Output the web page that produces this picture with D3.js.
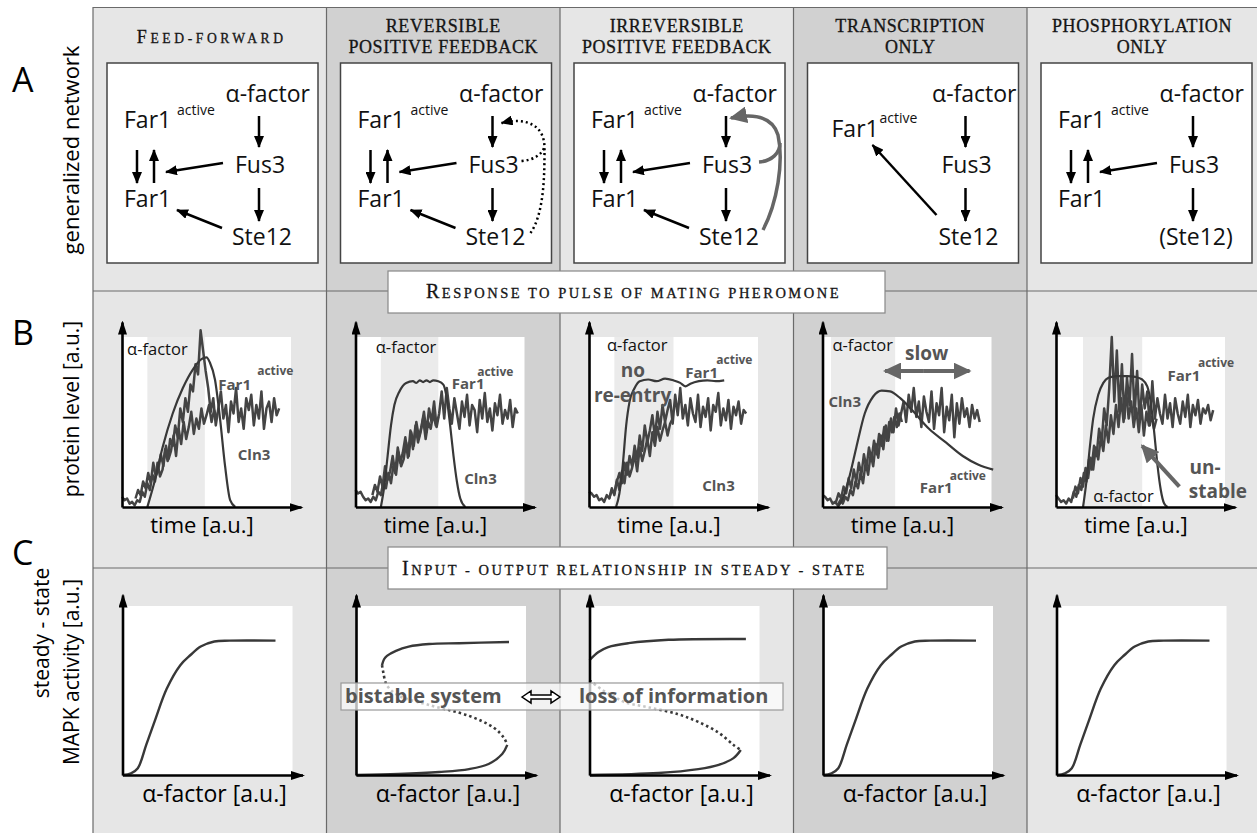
<!DOCTYPE html>
<html lang="en">
<head>
<meta charset="UTF-8">
<title>Far1 network motifs</title>
<script src="https://cdn.jsdelivr.net/npm/d3@7/dist/d3.min.js"></script>
<style>
  body { margin: 0; background: #fff; }
  svg { display: block; }
  text { font-family: "Open Sans", sans-serif; }
  .sc { font-family: "Liberation Serif", serif; fill: #151515; stroke: #151515; stroke-width: 0.3; }
  .up { text-transform: uppercase; }
</style>
</head>
<body>
<svg width="1257" height="833"></svg>
<script>
// ---- data ----
var columnTitles = [["Feed-forward"], ["reversible", "positive feedback"], ["irreversible", "positive feedback"],
                    ["transcription", "only"], ["phosphorylation", "only"]];
var rowLetters = ["A", "B", "C"];
var rowLabels = [["generalized network"], ["protein level [a.u.]"], ["steady - state", "MAPK activity [a.u.]"]];
var sectionTitles = ["Response to pulse of mating pheromone", "Input - output relationship in steady - state"];
var nodeNames = ["α-factor", "Fus3", "Ste12", "Far1", "active"];
var ste12Names = ["Ste12", "Ste12", "Ste12", "Ste12", "(Ste12)"];
var timeLabel = "time [a.u.]";
var doseLabel = "α-factor [a.u.]";

// pulse window (time units 0-100) per column
var pulseWindow = [[15, 49], [15, 49], [15, 50], [5, 43], [16, 51]];

// smooth curves in row B [time, level]
var ffAlpha = [[15,0],[19,14],[24,35],[30,55],[36,70],[42,81],[47,87],[50,88],[52,85],[55,75],[58,52],[61,24],[64,4],[67,0]];
var rpAlpha = [[15,0],[17,12],[19,30],[21,48],[23,60],[26,68],[30,73],[34,74],[36,73],[38,74.5],[40,73.5],[42,74.5],[44,73.5],[46,74.5],[49,74],[52,72],[54,64],[56,48],[58,30],[60,15],[62,5],[65,0]];
var irAlpha = [[16,0],[18,8],[20,25],[22,48],[24,62],[27,70],[30,74],[35,75],[40,74],[45,75.5],[50,74.5],[54,73],[57,71],[60,72.5],[65,74],[70,74.5],[75,74],[80,74.5]];
var trCln3 = [[9,0],[12,5],[16,18],[20,35],[25,55],[30,65],[35,68.5],[40,68],[46,64],[53,57],[63,46],[73,38],[83,30],[92,25],[101,22]];
var phAlpha = [[16,0],[18,15],[20,35],[22,52],[25,66],[28,73],[31,76],[36,77],[42,77],[47,76.5],[51,75],[54,71],[56,62],[58,45],[60,25],[62,10],[64,2],[66,0]];

// noisy traces in row B: one value every 1.5 time units, first time in noisyStart
var ffFar1 = [6,4,5,2,3,1,4,3,9,6,14,10,19,15,26,18,22,34,27,40,36,48,41,58,50,64,56,72,68,84,78,104,92,80,70,56,64,48,58,68,52,60,44,62,55,70,50,58,46,64,57,66,48,60,52,68,46,58,62,50,64,54,58];
var ffCln3 = [5,10,7,15,11,20,14,26,18,22,31,24,36,28,33,42,30,46,37,50,40,47,56,43,52,46,58,49,54,60,50,57,53];
var rpFar1 = [10,8,9,6,4,5,3,6,4,9,7,15,11,20,14,25,19,32,24,28,38,30,44,36,50,41,47,56,44,58,50,62,47,55,68,52,70,58,49,64,55,46,62,53,66,48,60,57,44,63,52,67,50,58,45,61,54,66,49,57,52,63,47,58,55];
var rpCln3 = [7,13,9,18,12,24,16,21,30,20,35,26,32,41,29,45,34,48,38,44,52,40,50,46,55,48,53];
var irFar1 = [9,8,6,7,4,5,3,7,5,10,8,15,20,14,26,19,30,24,36,28,42,33,48,38,45,54,41,56,46,60,50,57,63,49,66,54,70,52,60,48,64,55,50,66,47,59,53,64,45,60,56,67,48,58,51,63,46,59,54,62,49,57,55];
var irCln3 = [5,11,7,16,10,21,14,26,18,23,31,21,35,27,33,40,30,44,36,47,39,45,50,42,49,52];
var trFar1 = [7,6,4,5,2,3,1,4,2,6,4,10,7,15,11,20,14,26,19,31,24,37,29,42,34,48,39,52,44,58,48,55,62,50,66,56,70,53,62,47,65,56,50,68,46,61,54,70,44,59,51,66,41,61,49,64,53,58,47,60,52,57,50];
var trFar1b = [3,8,5,12,8,17,11,22,15,26,19,31,23,35,28,39,31,43,36,47,39,50,44,53,47,55,50];
var phFar1 = [7,5,3,4,2,5,3,9,6,13,10,20,15,28,22,36,30,46,38,58,48,70,100,62,92,56,84,52,76,60,90,54,80,50,72,58,68,48,74,52,64,55,49,66,52,61,47,64,55,49,62,53,66,47,60,54,63,49,58,55,60,51,57];
var phFar1b = [5,12,8,17,12,23,17,29,22,35,28,41,33,48,38,54,43,60,47,64,50,68,52,62,47,58,44,60,42,56,48,53,46,52];
var noisyStart = [[0, 8], [0, 10], [0, 12], [0, 8], [0, 10]];
var noiseStep = 1.5;

// steady state curves in row C [dose, activity]
var sigmoid = [[0,0],[5,1],[9,4],[14,18],[19,32],[26,51],[34,65],[40,71],[46,76],[54,79],[63,79.5],[90,79.5]];
var bistUpper = [[15.3,65],[16.5,68.5],[18.2,70.5],[23.5,73.5],[31,76],[43,77.5],[60.6,78],[90,78.7]];
var bistUnstable = [[15.3,65],[16,61],[18.2,53],[25,47],[43,41.4],[66.5,35],[81,28],[87,22],[89,17.8]];
var bistLower = [[89,17.8],[86,12.4],[78,6.5],[66.5,3.5],[49,1.8],[25,0.6],[0,0]];
var irrUpper = [[0,68],[5.3,72.8],[11,75.7],[23,78],[46.5,80],[92,80.5]];
var irrUnstable = [[0,56],[8,50],[15,46],[21,43],[35,40],[52,36],[64,31.4],[76,25],[84.7,17.8],[89,14.8]];
var irrLower = [[89,14.8],[84.7,10],[76,6],[64,3.5],[40.6,1.2],[0,0]];

// ---- layout ----
var svg = d3.select("svg");
var colLeft = [93, 326.5, 560, 793.5, 1027];
var colRight = [326.5, 560, 793.5, 1027, 1257];
var colFill = ["#e6e6e6", "#d1d1d1", "#e6e6e6", "#d1d1d1", "#e6e6e6"];

var defs = svg.append("defs");
function marker(id, color, len, wid, ref) {
  defs.append("marker").attr("id", id)
    .attr("viewBox", "0 0 " + len + " " + wid)
    .attr("refX", ref).attr("refY", wid / 2)
    .attr("markerWidth", len).attr("markerHeight", wid)
    .attr("markerUnits", "userSpaceOnUse").attr("orient", "auto")
    .append("path").attr("d", "M0,0L" + len + "," + wid / 2 + "L0," + wid + "Z").attr("fill", color);
}
marker("ax", "#000", 14, 9, 12);
marker("net", "#000", 12, 10, 11);
marker("gray", "#666", 18, 17, 16);

// small caps: a leading capital keeps the big size, the rest is set in capitals at the small size
function smallCaps(sel, str, big, small) {
  var first = str.charAt(0);
  if (first !== first.toLowerCase()) {
    sel.append("tspan").attr("font-size", big).text(first);
    sel.append("tspan").attr("class", "up").attr("font-size", small).text(str.slice(1));
  } else {
    sel.append("tspan").attr("class", "up").attr("font-size", small).text(str);
  }
}

// column backgrounds and grid
colLeft.forEach(function(x0, i) {
  svg.append("rect").attr("x", x0).attr("y", 7).attr("width", colRight[i] - x0).attr("height", 826).attr("fill", colFill[i]);
});
var grid = svg.append("g").attr("stroke", "#6a6a6a").attr("stroke-width", 1.2);
grid.append("line").attr("x1", 93).attr("x2", 1257).attr("y1", 7.5).attr("y2", 7.5);
[291, 568].forEach(function(y) {
  grid.append("line").attr("x1", 93).attr("x2", 1257).attr("y1", y).attr("y2", y);
});
colLeft.forEach(function(x) {
  grid.append("line").attr("x1", x).attr("x2", x).attr("y1", 7).attr("y2", 833);
});

// row letters and row labels
var letterY = [92, 345, 565];
rowLetters.forEach(function(l, i) {
  svg.append("text").attr("x", 12).attr("y", letterY[i]).attr("font-size", 34).text(l);
});
svg.append("text").attr("transform", "translate(79,150) rotate(-90)").attr("text-anchor", "middle").attr("font-size", 22).text(rowLabels[0][0]);
svg.append("text").attr("transform", "translate(79,409) rotate(-90)").attr("text-anchor", "middle").attr("font-size", 21).text(rowLabels[1][0]);
svg.append("text").attr("transform", "translate(49,633) rotate(-90)").attr("text-anchor", "middle").attr("font-size", 21).text(rowLabels[2][0]);
svg.append("text").attr("transform", "translate(79,672) rotate(-90)").attr("text-anchor", "middle").attr("font-size", 21).text(rowLabels[2][1]);

// column headings
columnTitles.forEach(function(lines, i) {
  var cx = (colLeft[i] + colRight[i]) / 2;
  if (lines.length === 1) {
    var t = svg.append("text").attr("class", "sc").attr("x", cx + 2).attr("y", 43).attr("text-anchor", "middle")
      .attr("letter-spacing", 3.6);
    smallCaps(t, lines[0], 18, 13.6);
  } else {
    lines.forEach(function(s, k) {
      var t = svg.append("text").attr("class", "sc").attr("x", cx).attr("y", 32 + k * 21).attr("text-anchor", "middle")
        .attr("letter-spacing", 0.6);
      smallCaps(t, s, 18, 18);
    });
  }
});

// ---- row A: networks ----
function arrow(g, x1, y1, x2, y2) {
  g.append("line").attr("x1", x1).attr("y1", y1).attr("x2", x2).attr("y2", y2)
    .attr("stroke", "#000").attr("stroke-width", 2.5).attr("marker-end", "url(#net)");
}
colLeft.forEach(function(x0, i) {
  var g = svg.append("g").attr("transform", "translate(" + (x0 + 14) + ",63)");
  g.append("rect").attr("width", 211).attr("height", 200).attr("fill", "#fff").attr("stroke", "#444").attr("stroke-width", 1.5);
  var dx = i === 3 ? 6 : 0;
  var t = g.append("g").attr("font-size", 23).attr("fill", "#111");
  t.append("text").attr("x", 203 + dx).attr("y", 39).attr("text-anchor", "end").text(nodeNames[0]);
  t.append("text").attr("x", 153 + dx).attr("y", 110).attr("text-anchor", "middle").text(nodeNames[1]);
  t.append("text").attr("x", 155 + dx).attr("y", 182).attr("text-anchor", "middle").text(ste12Names[i]);
  arrow(g, 152 + dx, 53, 152 + dx, 84);
  arrow(g, 152 + dx, 125, 152 + dx, 158);
  if (i === 3) {
    t.append("text").attr("x", 24).attr("y", 74).text(nodeNames[3]);
    t.append("text").attr("x", 72).attr("y", 60).attr("font-size", 14).text(nodeNames[4]);
    arrow(g, 129, 152, 65, 82);
    return;
  }
  t.append("text").attr("x", 17).attr("y", 65).text(nodeNames[3]);
  t.append("text").attr("x", 70).attr("y", 52).attr("font-size", 14).text(nodeNames[4]);
  t.append("text").attr("x", 17).attr("y", 144).text(nodeNames[3]);
  arrow(g, 30, 87, 30, 120);
  arrow(g, 47, 120, 47, 87);
  arrow(g, 116, 100, 59, 109);
  if (i !== 4) arrow(g, 115, 165, 70, 147);
  if (i === 1) {
    var dots = g.append("g").attr("fill", "none").attr("stroke", "#000").attr("stroke-width", 2.5).attr("stroke-dasharray", "2,3");
    dots.append("path").attr("d", "M190,170C204,150 204,110 204,85C204,62 186,54 161,60").attr("marker-end", "url(#net)");
    dots.append("path").attr("d", "M181,98C193,97 201,92 204,84");
  }
  if (i === 2) {
    var fb = g.append("g").attr("fill", "none").attr("stroke", "#666").attr("stroke-width", 3.5);
    fb.append("path").attr("d", "M189,167C203,140 210,100 204,72C199,55 182,50 157,55").attr("marker-end", "url(#gray)");
    fb.append("path").attr("d", "M185,99C198,98 206,90 206,80");
  }
});

// ---- section title boxes ----
function titleBox(x1, x2, y1, y2, s, base) {
  svg.append("rect").attr("x", x1).attr("y", y1).attr("width", x2 - x1).attr("height", y2 - y1)
    .attr("fill", "#fff").attr("stroke", "#888").attr("stroke-width", 1.2);
  var t = svg.append("text").attr("class", "sc").attr("x", (x1 + x2) / 2 - 3).attr("y", base).attr("text-anchor", "middle")
    .attr("letter-spacing", 2.5);
  smallCaps(t, s, 20, 14.5);
}
titleBox(388, 885, 271, 313, sectionTitles[0], 298);
titleBox(388, 887, 547, 589, sectionTitles[1], 575);

// ---- row B: pulse responses ----
var alphaCurves = [ffAlpha, rpAlpha, irAlpha, trCln3, phAlpha];
var noisyTraces = [[ffFar1, ffCln3], [rpFar1, rpCln3], [irFar1, irCln3], [trFar1, trFar1b], [phFar1, phFar1b]];
var bLabels = [
  [["α-factor", 3, 89.4, "n"], ["Far1", 57, 68.8, "b"], ["active", 80, 77.6, "s"], ["Cln3", 68.5, 27.6, "b"]],
  [["α-factor", 12, 90.6, "n"], ["Far1", 57, 69.4, "b"], ["active", 72, 77, "s"], ["Cln3", 64.3, 13.5, "b"]],
  [["α-factor", 10.6, 91.5, "n"], ["no", 18.8, 76.5, "L"], ["re-entry", 2.9, 61.8, "L"], ["Far1", 57, 75.9, "b"], ["active", 75.3, 84, "s"], ["Cln3", 67, 9.4, "b"]],
  [["α-factor", 5.9, 91.8, "n"], ["slow", 48.8, 86.5, "L"], ["Cln3", 3.5, 58.8, "b"], ["Far1", 57.6, 8.2, "b"], ["active", 75.3, 15.9, "s"]],
  [["Far1", 66, 74, "b"], ["active", 84, 82.4, "s"], ["α-factor", 22, 2.9, "n"], ["un-", 79, 19.5, "L"], ["stable", 78.6, 5.3, "L"]]
];
var labelStyle = { n: [16.5, 400, "#111"], b: [15, 700, "#555"], s: [12, 700, "#555"], L: [19, 700, "#555"] };

function axes(g, ax, base, right, top) {
  var xa = d3.scaleLinear().domain([0, 1]).range([ax, right]);
  var ya = d3.scaleLinear().domain([0, 1]).range([base, top]);
  var gx = g.append("g").attr("transform", "translate(0," + base + ")")
    .call(d3.axisBottom(xa).tickValues([]).tickSizeOuter(0));
  var gy = g.append("g").attr("transform", "translate(" + ax + ",0)")
    .call(d3.axisLeft(ya).tickValues([]).tickSizeOuter(0));
  [gx, gy].forEach(function(a) {
    a.select(".domain").attr("stroke", "#000").attr("stroke-width", 2.6).attr("marker-end", "url(#ax)");
  });
}

colLeft.forEach(function(x0, i) {
  var ax = x0 + 29, base = 507;
  var x = d3.scaleLinear().domain([0, 100]).range([ax, ax + 169]);
  var y = d3.scaleLinear().domain([0, 100]).range([base, base - 170]);
  var g = svg.append("g");
  g.append("rect").attr("x", x(0)).attr("y", y(100)).attr("width", x(100) - x(0)).attr("height", y(0) - y(100)).attr("fill", "#fff");
  g.append("rect").attr("x", x(pulseWindow[i][0])).attr("y", y(100)).attr("width", x(pulseWindow[i][1]) - x(pulseWindow[i][0]))
    .attr("height", y(0) - y(100)).attr("fill", "#ebebeb");

  var noisy = d3.line().x(function(d) { return x(d[0]); }).y(function(d) { return y(d[1]); });
  noisyTraces[i].forEach(function(vals, k) {
    var t0 = noisyStart[i][k];
    var ti = d3.scaleLinear().domain([0, vals.length - 1]).range([t0, t0 + noiseStep * (vals.length - 1)]);
    var pts = vals.map(function(v, j) { return [ti(j), v]; });
    g.append("path").attr("d", noisy(pts)).attr("fill", "none").attr("stroke", "#444")
      .attr("stroke-width", 2.5).attr("stroke-linejoin", "round");
  });
  var smooth = d3.line().x(function(d) { return x(d[0]); }).y(function(d) { return y(d[1]); }).curve(d3.curveMonotoneX);
  g.append("path").attr("d", smooth(alphaCurves[i])).attr("fill", "none").attr("stroke", "#383838").attr("stroke-width", 2.2);

  axes(g, ax, base, ax + 179, base - 185);

  bLabels[i].forEach(function(l) {
    var st = labelStyle[l[3]];
    g.append("text").attr("x", x(l[1])).attr("y", y(l[2])).attr("font-size", st[0]).attr("font-weight", st[1])
      .attr("fill", st[2]).text(l[0]);
  });
  if (i === 3) {
    g.append("line").attr("x1", x(60)).attr("x2", x(37)).attr("y1", y(80)).attr("y2", y(80))
      .attr("stroke", "#666").attr("stroke-width", 4).attr("marker-end", "url(#gray)");
    g.append("line").attr("x1", x(60)).attr("x2", x(87)).attr("y1", y(80)).attr("y2", y(80))
      .attr("stroke", "#666").attr("stroke-width", 4).attr("marker-end", "url(#gray)");
  }
  if (i === 4) {
    g.append("line").attr("x1", x(73)).attr("y1", y(12)).attr("x2", x(51)).attr("y2", y(36))
      .attr("stroke", "#666").attr("stroke-width", 4).attr("marker-end", "url(#gray)");
  }
  g.append("text").attr("x", ax + 80).attr("y", 533).attr("text-anchor", "middle").attr("font-size", 22).text(timeLabel);
});

// ---- row C: steady state ----
var ssCurves = [
  [[sigmoid, 0]],
  [[bistUpper, 0], [bistUnstable, 1], [bistLower, 0]],
  [[irrUpper, 0], [irrUnstable, 1], [irrLower, 0]],
  [[sigmoid, 0]],
  [[sigmoid, 0]]
];
colLeft.forEach(function(x0, i) {
  var ax = x0 + 29.5, base = 775;
  var x = d3.scaleLinear().domain([0, 100]).range([ax, ax + 170]);
  var y = d3.scaleLinear().domain([0, 100]).range([base, base - 169]);
  var g = svg.append("g");
  g.append("rect").attr("x", x(0)).attr("y", y(100)).attr("width", x(100) - x(0)).attr("height", y(0) - y(100)).attr("fill", "#fff");
  var line = d3.line().x(function(d) { return x(d[0]); }).y(function(d) { return y(d[1]); }).curve(d3.curveCatmullRom);
  ssCurves[i].forEach(function(c) {
    g.append("path").attr("d", line(c[0])).attr("fill", "none").attr("stroke", "#383838")
      .attr("stroke-width", c[1] ? 2.6 : 2.4).attr("stroke-dasharray", c[1] ? "2.5,3" : null);
  });
  axes(g, ax, base, ax + 180, base - 180);
  g.append("text").attr("x", ax + 92).attr("y", 802).attr("text-anchor", "middle").attr("font-size", 23).text(doseLabel);
});

// bistable / loss of information label
svg.append("rect").attr("x", 341).attr("y", 683).attr("width", 442).attr("height", 27)
  .attr("fill", "#fff").attr("fill-opacity", 0.72).attr("stroke", "#999").attr("stroke-width", 1.2);
svg.append("text").attr("x", 345).attr("y", 703).attr("font-size", 20).attr("font-weight", 700).attr("fill", "#555").text("bistable system");
svg.append("text").attr("x", 579).attr("y", 703).attr("font-size", 20).attr("font-weight", 700).attr("fill", "#555").text("loss of information");
svg.append("path").attr("d", "M522,697l9,-6v4h20v-4l9,6l-9,6v-4h-20v4z").attr("fill", "#fff").attr("stroke", "#000").attr("stroke-width", 1.5);
</script>
</body>
</html>
